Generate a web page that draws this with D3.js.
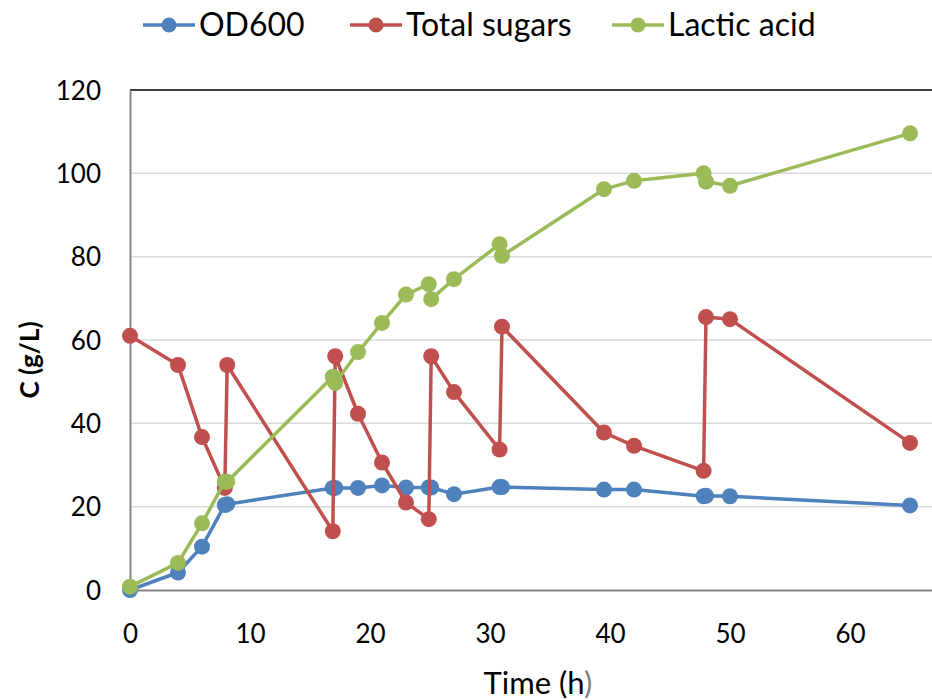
<!DOCTYPE html>
<html>
<head>
<meta charset="utf-8">
<script src="https://cdn.jsdelivr.net/npm/d3@7"></script>
<style>
  body { margin: 0; background: #fff; }
  text { font-family: Lato, "Open Sans", sans-serif; fill: #000; }
</style>
</head>
<body>
<svg id="chart" width="932" height="700"></svg>
<script>
// sampling times (h) - feeding points appear twice, a few minutes apart
const time = [0, 4, 6, 7.9, 8.1, 16.9, 17.1, 19, 21, 23, 24.9, 25.1, 27, 30.8, 31, 39.5, 42, 47.8, 48, 50, 65];
const od600 = [0, 4.2, 10.4, 20.4, 20.6, 24.5, 24.5, 24.5, 25.1, 24.6, 24.6, 24.6, 23, 24.7, 24.7, 24.1, 24.1, 22.5, 22.6, 22.5, 20.3];
const totalSugars = [61, 54, 36.7, 24.5, 54, 14.1, 56.1, 42.3, 30.6, 21, 17, 56.1, 47.5, 33.7, 63.2, 37.8, 34.6, 28.6, 65.5, 65, 35.3];
const lacticAcid = [0.8, 6.5, 16, 26, 26, 51.2, 49.7, 57.1, 64.1, 70.9, 73.4, 69.8, 74.6, 83, 80.2, 96.2, 98.2, 100, 98, 97, 109.6];

const seriesNames = ["OD600", "Total sugars", "Lactic acid"];
const seriesColors = ["#4F81BD", "#C0504D", "#9BBB59"];
const xTicks = [0, 10, 20, 30, 40, 50, 60];
const yTicks = [0, 20, 40, 60, 80, 100, 120];

let chart = {
    draw: function () {
        const svg = d3.select("#chart");

        const x = d3.scaleLinear().domain([0, 70]).range([130, 970]);
        const y = d3.scaleLinear().domain([0, 120]).range([590, 90]);

        // horizontal gridlines
        svg.append("g").selectAll("line").data(yTicks.filter(d => d > 0 && d < 120)).enter().append("line")
            .attr("x1", x(0)).attr("x2", 932)
            .attr("y1", d => y(d)).attr("y2", d => y(d))
            .attr("stroke", "#D9D9D9").attr("stroke-width", 1.5);
        // top line
        svg.append("line").attr("x1", x(0)).attr("x2", 932).attr("y1", y(120)).attr("y2", y(120))
            .attr("stroke", "#000").attr("stroke-width", 1.5);

        // y axis
        const yAxis = svg.append("g").attr("transform", `translate(${x(0)},0)`)
            .call(d3.axisLeft(y).tickValues(yTicks).tickSize(0).tickPadding(29));
        yAxis.select(".domain").attr("stroke", "#868686").attr("stroke-width", 2);
        yAxis.selectAll("text").style("font-size", "26px").attr("dy", "0.35em");

        // x axis
        const xAxis = svg.append("g").attr("transform", `translate(0,${y(0)})`)
            .call(d3.axisBottom(x).tickValues(xTicks).tickSize(0).tickPadding(44));
        xAxis.select(".domain").attr("stroke", "#868686").attr("stroke-width", 2);
        xAxis.selectAll("text").style("font-size", "26px").attr("dy", "0.35em");

        // axis titles
        svg.append("text").attr("transform", "translate(39,360) rotate(-90)")
            .attr("text-anchor", "middle").style("font-size", "26px").style("font-weight", "bold")
            .text("C (g/L)");
        const xt = svg.append("text").attr("x", 538).attr("y", 694)
            .attr("text-anchor", "middle").style("font-size", "31px");
        xt.append("tspan").text("Time (h");
        xt.append("tspan").style("fill", "#7F7F7F").text(")");

        // series
        const allValues = [od600, totalSugars, lacticAcid];
        const line = d3.line().x(d => x(d[0])).y(d => y(d[1]));
        allValues.forEach((vals, i) => {
            const pts = time.map((t, k) => [t, vals[k]]);
            const g = svg.append("g");
            g.append("path").datum(pts).attr("d", line)
                .attr("fill", "none").attr("stroke", seriesColors[i]).attr("stroke-width", 3.5)
                .attr("stroke-linejoin", "round");
            g.selectAll("circle").data(pts).enter().append("circle")
                .attr("cx", d => x(d[0])).attr("cy", d => y(d[1])).attr("r", 8)
                .attr("fill", seriesColors[i]);
        });

        // legend
        const legendX = [143, 350, 612];
        const legend = svg.append("g").selectAll("g").data(seriesNames).enter().append("g")
            .attr("transform", (d, i) => `translate(${legendX[i]},25)`);
        legend.append("line").attr("x1", 0).attr("x2", 52).attr("y1", 0).attr("y2", 0)
            .attr("stroke", (d, i) => seriesColors[i]).attr("stroke-width", 3.5);
        legend.append("circle").attr("cx", 26).attr("cy", 0).attr("r", 7.5)
            .attr("fill", (d, i) => seriesColors[i]);
        legend.append("text").attr("x", 56).attr("dy", "0.35em").style("font-size", "32px")
            .text(d => d);
    }
};

window.onload = function () {
    chart.draw();
};
</script>
</body>
</html>
